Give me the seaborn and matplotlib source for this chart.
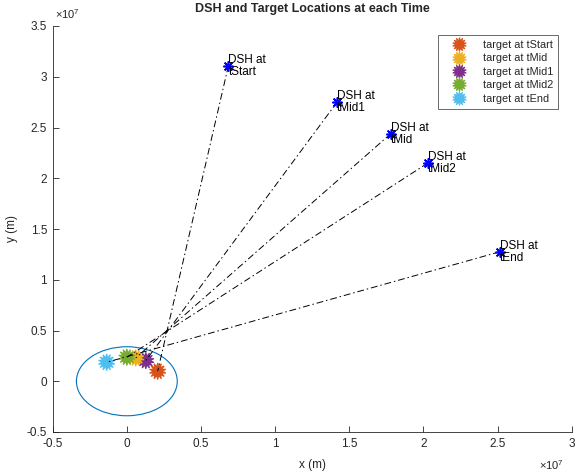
import numpy as np
import pandas as pd
import matplotlib
matplotlib.use("Agg")
import matplotlib.pyplot as plt
import seaborn as sns
from matplotlib.patches import Circle
from matplotlib.lines import Line2D
from matplotlib.ticker import FuncFormatter

# ---- data ----
times = ["tStart", "tMid1", "tMid", "tMid2", "tEnd"]
dsh_x = [0.685e7, 1.418e7, 1.781e7, 2.030e7, 2.514e7]
dsh_y = [3.11e7, 2.75e7, 2.44e7, 2.15e7, 1.275e7]
tgt_x = [0.208e7, 0.128e7, 0.060e7, 0.000e7, -0.136e7]
tgt_y = [0.099e7, 0.204e7, 0.230e7, 0.237e7, 0.187e7]
legend_order = ["tStart", "tMid", "tMid1", "tMid2", "tEnd"]
tgt_colors = {"tStart": "#D95319", "tMid": "#EDB120", "tMid1": "#7E2F8E",
              "tMid2": "#77AC30", "tEnd": "#4DBEEE"}
circle_radius = 0.34e7
xlim = (-0.5e7, 3e7)
ylim = (-0.5e7, 3.5e7)
xticks = np.arange(-0.5, 3.01, 0.5) * 1e7
yticks = np.arange(-0.5, 3.51, 0.5) * 1e7

sns.set_style("white")
plt.rcParams["font.family"] = ["Liberation Sans", "DejaVu Sans"]
plt.rcParams["mathtext.fontset"] = "custom"
plt.rcParams["mathtext.rm"] = "Liberation Sans"
plt.rcParams["axes.unicode_minus"] = False

TXT = "#262626"
W, H = 575, 476
fig = plt.figure(figsize=(W/100, H/100), dpi=100)
L, R, T, B = 52.7, 571.7, 26, 432
ax = fig.add_axes([L/W, 1-B/H, (R-L)/W, (B-T)/H])

tgt_df = pd.DataFrame({"x": tgt_x, "y": tgt_y,
                       "label": ["target at " + t for t in times]})
palette = {"target at " + k: v for k, v in tgt_colors.items()}
hue_order = ["target at " + t for t in legend_order]
tmarker = (14, 1, 0)

# circle
ax.add_patch(Circle((0, 0), circle_radius, fill=False, edgecolor="#0072BD", lw=0.8, zorder=1))

sns.scatterplot(data=tgt_df, x="x", y="y", hue="label", hue_order=hue_order,
                palette=palette, marker=tmarker, s=130, linewidth=1.0,
                ax=ax, zorder=3, legend=False)
coll = ax.collections[-1]
coll.set_edgecolor(coll.get_facecolor())

# dash-dot lines
for i in range(len(times)):
    ax.plot([dsh_x[i], tgt_x[i]], [dsh_y[i], tgt_y[i]], color="black",
            lw=0.7, linestyle=(0, (7, 3, 1.5, 3)), zorder=4)

dsh_df = pd.DataFrame({"x": dsh_x, "y": dsh_y})
sns.scatterplot(data=dsh_df, x="x", y="y", marker=(8, 2, 0), s=45, color="blue",
                edgecolor="blue", linewidth=1.2, ax=ax, zorder=5, legend=False)

for i, t in enumerate(times):
    ax.text(dsh_x[i], dsh_y[i], "DSH at\n" + t, ha="left", va="center",
            fontsize=8.5, linespacing=1.0, zorder=6, color="black")

ax.set_xlim(*xlim)
ax.set_ylim(*ylim)
ax.set_xticks(xticks)
ax.set_yticks(yticks)
fmt = FuncFormatter(lambda v, p: "%g" % round(v / 1e7, 3))
ax.xaxis.set_major_formatter(fmt)
ax.yaxis.set_major_formatter(fmt)
ax.tick_params(direction="in", length=4, width=0.6, labelsize=8.5,
               bottom=True, left=True, top=False, right=False,
               colors=TXT, pad=4)
sns.despine(ax=ax)
for s in ["left", "bottom"]:
    ax.spines[s].set_color(TXT)
    ax.spines[s].set_linewidth(0.6)

# exponent labels
fig.text(55/W, 1-19/H, r"$\times10^{7}$", fontsize=8, color=TXT, ha="left", va="baseline")
fig.text(564/W, 1-470/H, r"$\times10^{7}$", fontsize=8, color=TXT, ha="right", va="baseline")

ax.set_xlabel("x (m)", fontsize=8.5, labelpad=7, color=TXT)
ax.set_ylabel("y (m)", fontsize=8.5, labelpad=6, color=TXT)
ax.set_title("DSH and Target Locations at each Time", fontsize=9, fontweight="bold", pad=10)

handles = [Line2D([], [], linestyle="none", marker=tmarker, markersize=10,
                  markerfacecolor=tgt_colors[k], markeredgecolor=tgt_colors[k],
                  markeredgewidth=0.8, label="target at " + k) for k in legend_order]
leg = ax.legend(handles=handles, loc="upper right",
                bbox_to_anchor=((558-L)/(R-L), (B-35)/(B-T)), bbox_transform=ax.transAxes,
                fontsize=7.8, frameon=True, fancybox=False, edgecolor=TXT,
                borderpad=0.45, labelspacing=0.32, handletextpad=0.7, handlelength=3.0,
                borderaxespad=0)
leg.get_frame().set_linewidth(0.6)

fig.savefig("out.png", dpi=100, facecolor="white")
